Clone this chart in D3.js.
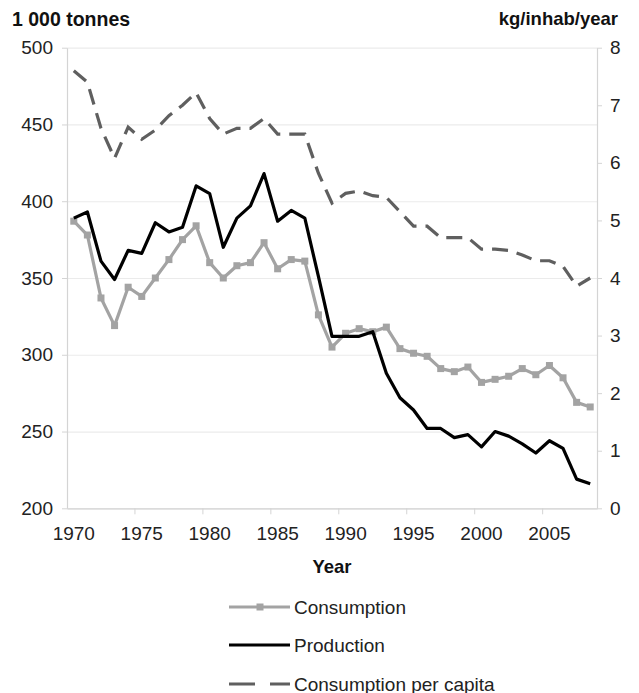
<!DOCTYPE html>
<html>
<head>
<meta charset="utf-8">
<script src="https://cdn.jsdelivr.net/npm/d3@7"></script>
<style>
  body { margin: 0; background: #fff; }
  text { font-family: "Liberation Sans", Arial, sans-serif; }
</style>
</head>
<body>
<div id="chart"></div>
<script>
// Data (1 000 tonnes, kg/inhab/year)
const years = d3.range(1970, 2009);
const production = [389, 393, 361, 349, 368, 366, 386, 380, 383, 410,
                    405, 370, 389, 397, 418, 387, 394, 389, 351, 312,
                    312, 312, 315, 288, 272, 264, 252, 252, 246, 248,
                    240, 250, 247, 242, 236, 244, 239, 219, 216];
const consumption = [387, 378, 337, 319, 344, 338, 350, 362, 375, 384,
                     360, 350, 358, 360, 373, 356, 362, 361, 326, 305,
                     314, 317, 315, 318, 304, 301, 299, 291, 289, 292,
                     282, 284, 286, 291, 287, 293, 285, 269, 266];
const perCapita = [7.6, 7.4, 6.6, 6.08, 6.62, 6.41, 6.57, 6.82, 7.0, 7.22,
                   6.77, 6.5, 6.6, 6.6, 6.77, 6.5, 6.5, 6.5, 5.82, 5.3,
                   5.47, 5.51, 5.43, 5.4, 5.15, 4.9, 4.9, 4.7, 4.7, 4.7,
                   4.5, 4.5, 4.48, 4.4, 4.3, 4.3, 4.2, 3.86, 4.0];
const leftTicks = [200, 250, 300, 350, 400, 450, 500];
const rightTicks = [0, 1, 2, 3, 4, 5, 6, 7, 8];

const W = 639, H = 693;
const plot = { left: 67, right: 597, top: 47.7, bottom: 508.3 };

const svg = d3.select("#chart")
    .append("svg")
    .attr("width", W)
    .attr("height", H);

const x = d3.scaleBand()
    .domain(years)
    .range([plot.left, plot.right]);
const xc = d => x(d) + x.bandwidth() / 2;

const yL = d3.scaleLinear().domain([200, 500]).range([plot.bottom, plot.top]);
const yR = d3.scaleLinear().domain([0, 8]).range([plot.bottom, plot.top]);

// gridlines
svg.append("g")
    .attr("transform", `translate(${plot.left},0)`)
    .call(d3.axisLeft(yL).tickValues(leftTicks).tickSize(-(plot.right - plot.left)).tickFormat(""))
    .call(g => g.select(".domain").remove())
    .call(g => g.selectAll("line").attr("stroke", "#ebebeb").attr("stroke-width", 1.2));

// left axis
svg.append("g")
    .attr("transform", `translate(${plot.left},0)`)
    .call(d3.axisLeft(yL).tickValues(leftTicks).tickSize(5).tickSizeOuter(0).tickPadding(9))
    .call(g => g.select(".domain").attr("stroke", "#d4d4d4").attr("stroke-width", 1.2))
    .call(g => g.selectAll("line").attr("stroke", "#d4d4d4"))
    .call(g => g.selectAll("text").attr("font-size", 19).attr("fill", "#222"));

// right axis
svg.append("g")
    .attr("transform", `translate(${plot.right},0)`)
    .call(d3.axisRight(yR).tickValues(rightTicks).tickSize(5).tickSizeOuter(0).tickPadding(8))
    .call(g => g.select(".domain").attr("stroke", "#d4d4d4").attr("stroke-width", 1.2))
    .call(g => g.selectAll("line").attr("stroke", "#d4d4d4"))
    .call(g => g.selectAll("text").attr("font-size", 19).attr("fill", "#222"));

// bottom axis: labels on category centres, tick marks on category edges
svg.append("g")
    .attr("transform", `translate(0,${plot.bottom})`)
    .call(d3.axisBottom(x).tickValues(years.filter(d => d % 5 === 0)).tickSize(6).tickSizeOuter(0).tickPadding(12))
    .call(g => g.select(".domain").attr("stroke", "#d4d4d4").attr("stroke-width", 1.2))
    .call(g => g.selectAll(".tick line").attr("stroke", "#d4d4d4")
        .attr("x1", -x.bandwidth() / 2).attr("x2", -x.bandwidth() / 2)
        .attr("display", d => d === 1970 ? "none" : null))
    .call(g => g.selectAll("text").attr("font-size", 19).attr("fill", "#222"));

// axis titles
svg.append("text")
    .attr("x", 12).attr("y", 26)
    .attr("font-size", 19.5).attr("font-weight", "bold").attr("fill", "#111")
    .text("1 000 tonnes");
svg.append("text")
    .attr("x", 618).attr("y", 25)
    .attr("text-anchor", "end")
    .attr("font-size", 18.5).attr("font-weight", "bold").attr("fill", "#111")
    .text("kg/inhab/year");
svg.append("text")
    .attr("x", 332).attr("y", 573)
    .attr("text-anchor", "middle")
    .attr("font-size", 18.5).attr("font-weight", "bold").attr("fill", "#111")
    .text("Year");

const lineL = d3.line().x((d, i) => xc(years[i])).y(d => yL(d));
const lineR = d3.line().x((d, i) => xc(years[i])).y(d => yR(d));

// per capita (dashed, right axis)
svg.append("path")
    .datum(perCapita)
    .attr("d", lineR)
    .attr("fill", "none")
    .attr("stroke", "#5f5f5f")
    .attr("stroke-width", 3.2)
    .attr("stroke-dasharray", "16,9");

// consumption
svg.append("path")
    .datum(consumption)
    .attr("d", lineL)
    .attr("fill", "none")
    .attr("stroke", "#a3a3a3")
    .attr("stroke-width", 3.2)
    .attr("stroke-linejoin", "round");
svg.append("g")
    .selectAll("rect")
    .data(consumption)
    .join("rect")
        .attr("x", (d, i) => xc(years[i]) - 3.5)
        .attr("y", d => yL(d) - 3.5)
        .attr("width", 7)
        .attr("height", 7)
        .attr("fill", "#a3a3a3");

// production
svg.append("path")
    .datum(production)
    .attr("d", lineL)
    .attr("fill", "none")
    .attr("stroke", "#000")
    .attr("stroke-width", 3.2)
    .attr("stroke-linejoin", "round");

// legend
const legend = svg.append("g");
const legendItems = [
    { name: "Consumption", color: "#a3a3a3", dash: null, marker: true, y: 607 },
    { name: "Production", color: "#000", dash: null, marker: false, y: 645 },
    { name: "Consumption per capita", color: "#5f5f5f", dash: "26,15", marker: false, y: 684 }
];
legendItems.forEach(it => {
    legend.append("line")
        .attr("x1", 229).attr("x2", 290)
        .attr("y1", it.y).attr("y2", it.y)
        .attr("stroke", it.color)
        .attr("stroke-width", 3.2)
        .attr("stroke-dasharray", it.dash);
    if (it.marker) {
        legend.append("rect")
            .attr("x", 256.5).attr("y", it.y - 3.5)
            .attr("width", 7).attr("height", 7)
            .attr("fill", it.color);
    }
    legend.append("text")
        .attr("x", 294).attr("y", it.y + 6.5)
        .attr("font-size", 19).attr("fill", "#222")
        .text(it.name);
});
</script>
</body>
</html>
